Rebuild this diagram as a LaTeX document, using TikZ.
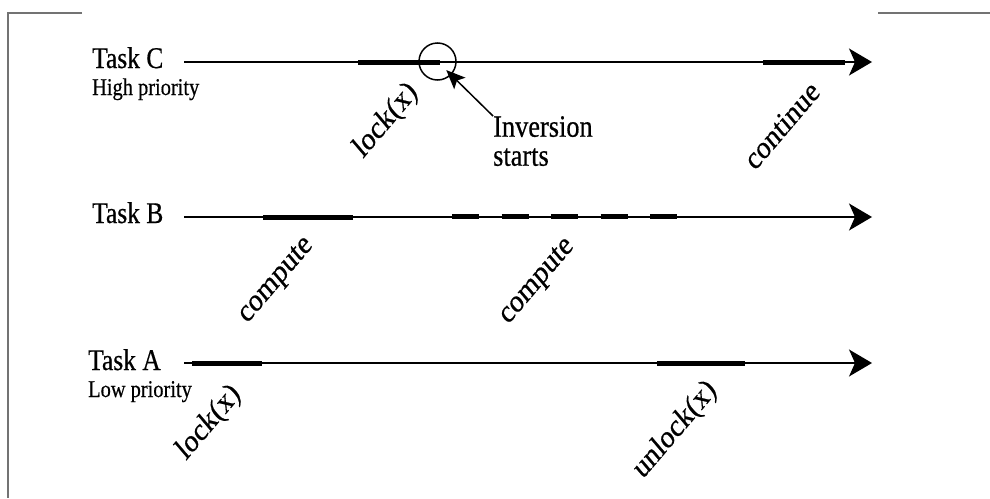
\documentclass[tikz,border=0pt]{standalone}
\usepackage{fontspec}
\setmainfont[FakeBold=0.6]{Liberation Serif}
\usetikzlibrary{arrows.meta}
\begin{document}
\begin{tikzpicture}[x=1pt,y=-1pt,
  timeline/.style={line width=1.5pt, -{Stealth[length=23pt,width=27pt,inset=6pt]}},
  busy/.style={line width=5pt},
  frameline/.style={line width=1.6pt, draw=black!55},
  tasklbl/.style={inner sep=0pt, anchor=base west, xscale=0.85, font=\fontsize{30}{36}\selectfont},
  prio/.style={inner sep=0pt, anchor=base west, xscale=0.85, font=\fontsize{24}{29}\selectfont},
  oplbl/.style={inner sep=0pt, anchor=east, xscale=0.85, rotate=45, font=\fontsize{32}{38}\selectfont},
  pointer/.style={line width=1.5pt, -{Stealth[length=19pt,width=16pt,inset=4pt]}, shorten >=-7pt},
]
\useasboundingbox (0,0) rectangle (990,498);
% frame
\draw[frameline] (82,13) -- (8,13) -- (8,498);
\draw[frameline] (878,13) -- (990,13);
% task labels
\node[tasklbl] (tC) at (92,68) {Task C};
\node[prio] (pC) at (92,95) {High priority};
\node[tasklbl] (tB) at (92,223) {Task B};
\node[tasklbl] (tA) at (88,370) {Task A};
\node[prio] (pA) at (88,397) {Low priority};
% time lines
\coordinate (Cs) at (184,62); \coordinate (Ce) at (872,62);
\coordinate (Bs) at (184,217); \coordinate (Be) at (872,217);
\coordinate (As) at (184,363); \coordinate (Ae) at (872,363);
\draw[timeline] (Cs) -- (Ce);
\draw[timeline] (Bs) -- (Be);
\draw[timeline] (As) -- (Ae);
% busy segments
\draw[busy] (358,62) -- (440,62);
\draw[busy] (763,62) -- (845,62);
\draw[busy] (263,217) -- (353,217);
\draw[busy, dash pattern=on 27pt off 22.5pt] (452,216) -- (677,216);
\draw[busy] (192,363) -- (262,363);
\draw[busy] (657,363) -- (745,363);
% operation labels
\node[oplbl] (lC) at (414,88) {lock(x)};
\node[oplbl] (cC) at (815,86) {continue};
\node[oplbl] (b1) at (310,242) {compute};
\node[oplbl] (b2) at (571,243) {compute};
\node[oplbl] (lA) at (237,390) {lock(x)};
\node[oplbl] (uA) at (713,386) {unlock(x)};
% inversion
\node[circle, draw, line width=1.5pt, minimum size=37pt, inner sep=0pt] (circ) at (437.5,61.5) {};
\node[inner sep=0pt, anchor=north west, align=left, xscale=0.85, font=\fontsize{31}{29}\selectfont] (inv) at (493,116) {Inversion\\starts};
\draw[pointer] (inv.north west) -- (circ);
\end{tikzpicture}
\end{document}
